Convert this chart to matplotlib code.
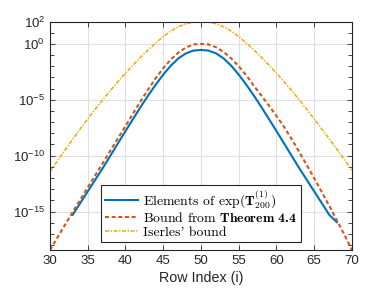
import numpy as np
import matplotlib
matplotlib.use("Agg")
import matplotlib.pyplot as plt
from matplotlib.ticker import FixedLocator, NullFormatter

# MATLAB default colours
BLUE = "#0072BD"
ORANGE = "#D95319"
YELLOW = "#EDB120"

plt.rcParams.update(
    {
        "font.family": "Liberation Sans",
        "mathtext.fontset": "custom",
        "mathtext.rm": "cmr10",
        "mathtext.it": "cmmi10",
        "mathtext.bf": "cmb10",
        "axes.unicode_minus": False,
    }
)

# values (log10 of the entries)
rows_all = np.arange(30, 71)
rows_exact = np.arange(33, 69)

log_exact = [
    -15.3, -14.25, -13.2, -12.15, -11.1, -10.0, -8.9, -7.8, -6.72, -5.65,
    -4.62, -3.65, -2.75, -1.95, -1.3, -0.85, -0.60,
    -0.54,
    -0.60, -0.85, -1.3, -1.95, -2.75, -3.65, -4.62, -5.65, -6.72, -7.8,
    -8.9, -10.0, -11.1, -12.15, -13.2, -14.25, -15.3, -15.95,
]

log_thm44 = [
    -18.44, -17.31, -16.18, -15.05, -13.95, -12.85, -11.75, -10.65, -9.55, -8.45,
    -7.35, -6.23, -5.13, -4.08, -3.08, -2.18, -1.40, -0.78, -0.33, -0.05,
    0.0,
    -0.05, -0.3, -0.72, -1.3, -2.0, -2.8, -3.75, -4.62, -5.52, -6.45,
    -7.42, -8.5, -9.65, -10.83, -12.02, -13.25, -14.5, -15.78, -17.08, -18.45,
]

log_iserles = [
    -11.43, -10.44, -9.48, -8.54, -7.62, -6.72, -5.84, -4.99, -4.17, -3.38,
    -2.62, -1.89, -1.20, -0.54, 0.08, 0.65, 1.15, 1.53, 1.80, 1.95,
    2.0,
    1.95, 1.80, 1.53, 1.15, 0.65, 0.08, -0.54, -1.20, -1.89, -2.62,
    -3.38, -4.17, -4.99, -5.84, -6.72, -7.62, -8.50, -9.42, -10.36, -11.30,
]

xticks = [30, 35, 40, 45, 50, 55, 60, 65, 70]
ytick_exp = [-15, -10, -5, 0, 2]

fig = plt.figure(figsize=(3.89, 2.92), dpi=100)
ax = fig.add_axes([0.1285, 0.1438, 0.7763, 0.7825])

ax.plot(rows_exact, 10.0 ** np.array(log_exact), color=BLUE, lw=1.5,
        label=r"Elements of exp($\mathbf{T}_{200}^{(1)}$)")
ax.plot(rows_all, 10.0 ** np.array(log_thm44), color=ORANGE, lw=1.5,
        linestyle=(0, (1.9, 1.3)), label=r"Bound from $\mathbf{Theorem\ 4.4}$")
ax.plot(rows_all, 10.0 ** np.array(log_iserles), color=YELLOW, lw=1.2,
        linestyle=(0, (2.5, 0.9, 0.8, 0.9)), label="Iserles' bound")

ax.set_yscale("log")
ax.set_xlim(30, 70)
ax.set_ylim(10 ** -18.44, 10 ** 2.0)

ax.set_xticks(xticks)
ax.set_xticklabels([str(t) for t in xticks])
ax.yaxis.set_major_locator(FixedLocator([10.0 ** e for e in ytick_exp]))
ax.set_yticklabels([r"$\mathregular{10^{%d}}$" % e for e in ytick_exp])
ax.yaxis.set_minor_locator(FixedLocator([10.0 ** e for e in range(-18, 3)]))
ax.yaxis.set_minor_formatter(NullFormatter())

ax.tick_params(which="both", direction="in", top=True, right=True,
               colors="#262626", labelsize=9.5, width=0.6)
ax.tick_params(which="major", length=3.5, pad=3.5)
ax.tick_params(which="minor", length=3.0)
ax.tick_params(axis="x", which="minor", bottom=False, top=False)

ax.grid(True, which="major", color="#e0e0e0", lw=0.8)
ax.set_axisbelow(True)
for s in ax.spines.values():
    s.set_color("#262626")
    s.set_linewidth(0.8)

ax.set_xlabel("Row Index (i)", fontsize=10.3, color="#262626", labelpad=3)

leg = ax.legend(loc="lower center", bbox_to_anchor=(0.5, 0.035),
                prop={"family": ["cmr10", "DejaVu Serif"], "size": 9.9},
                fancybox=False, framealpha=1, edgecolor="#262626",
                handlelength=2.4, labelspacing=0.05, borderpad=0.25,
                handletextpad=0.4, borderaxespad=0)
leg.get_frame().set_linewidth(0.8)

fig.savefig("out.png", dpi=100)
